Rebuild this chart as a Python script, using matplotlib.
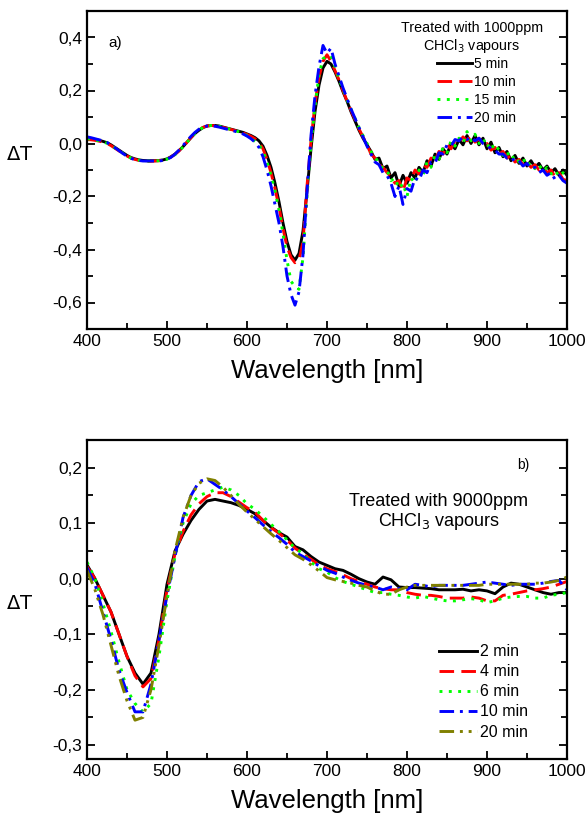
import numpy as np
import matplotlib
matplotlib.use('Agg')
import matplotlib.pyplot as plt
from matplotlib.ticker import MultipleLocator, FuncFormatter

plt.rcParams['font.family'] = ['Liberation Sans', 'DejaVu Sans']

# ---- panel a) : 1000 ppm CHCl3, wavelength grid 400..1000 step 5 nm
wl_a = list(range(400, 1001, 5))

dT_5min = [
    0.020, 0.018, 0.015, 0.012, 0.008, 0.003, -0.005, -0.015, -0.025, -0.035,
    -0.045, -0.053, -0.058, -0.062, -0.064, -0.065, -0.065, -0.065, -0.064, -0.062,
    -0.058, -0.050, -0.040, -0.027, -0.012, 0.005, 0.022, 0.038, 0.050, 0.060,
    0.066, 0.068, 0.068, 0.066, 0.062, 0.058, 0.054, 0.050, 0.046, 0.042,
    0.036, 0.030, 0.022, 0.010, -0.010, -0.045, -0.090, -0.150, -0.220, -0.300,
    -0.370, -0.420, -0.440, -0.415, -0.330, -0.180, -0.020, 0.120, 0.220, 0.285,
    0.310, 0.300, 0.270, 0.235, 0.195, 0.160, 0.120, 0.085, 0.050, 0.020,
    -0.005, -0.030, -0.060, -0.055, -0.095, -0.085, -0.130, -0.110, -0.160, -0.120,
    -0.150, -0.110, -0.130, -0.090, -0.110, -0.065, -0.085, -0.040, -0.060, -0.020,
    -0.040, 0.000, -0.020, 0.015, -0.005, 0.030, 0.000, 0.030, -0.005, 0.020,
    -0.020, 0.005, -0.035, -0.015, -0.050, -0.030, -0.065, -0.045, -0.075, -0.055,
    -0.085, -0.065, -0.090, -0.075, -0.100, -0.085, -0.110, -0.095, -0.120, -0.100,
    -0.120]

dT_10min = [
    0.015, 0.014, 0.012, 0.009, 0.005, 0.000, -0.008, -0.018, -0.028, -0.038,
    -0.047, -0.055, -0.060, -0.064, -0.066, -0.067, -0.067, -0.066, -0.065, -0.063,
    -0.059, -0.051, -0.041, -0.028, -0.012, 0.005, 0.023, 0.039, 0.052, 0.061,
    0.066, 0.068, 0.067, 0.065, 0.061, 0.057, 0.053, 0.049, 0.045, 0.040,
    0.034, 0.027, 0.018, 0.005, -0.020, -0.060, -0.110, -0.170, -0.240, -0.320,
    -0.390, -0.430, -0.450, -0.440, -0.370, -0.160, 0.010, 0.150, 0.250, 0.310,
    0.335, 0.310, 0.275, 0.240, 0.200, 0.160, 0.125, 0.090, 0.055, 0.025,
    -0.005, -0.040, -0.055, -0.080, -0.090, -0.110, -0.125, -0.150, -0.140, -0.180,
    -0.130, -0.140, -0.100, -0.115, -0.080, -0.090, -0.055, -0.065, -0.030, -0.040,
    -0.005, -0.020, 0.010, 0.000, 0.025, 0.010, 0.030, 0.005, 0.020, -0.010,
    0.000, -0.025, -0.015, -0.040, -0.030, -0.055, -0.045, -0.070, -0.060, -0.080,
    -0.070, -0.090, -0.080, -0.100, -0.090, -0.110, -0.100, -0.125, -0.110, -0.135,
    -0.140]

dT_15min = [
    0.018, 0.016, 0.013, 0.010, 0.006, 0.001, -0.007, -0.017, -0.027, -0.037,
    -0.047, -0.055, -0.060, -0.063, -0.065, -0.066, -0.066, -0.066, -0.065, -0.063,
    -0.059, -0.052, -0.042, -0.029, -0.013, 0.004, 0.022, 0.038, 0.051, 0.060,
    0.066, 0.068, 0.067, 0.065, 0.061, 0.057, 0.053, 0.049, 0.044, 0.038,
    0.030, 0.020, 0.008, -0.005, -0.030, -0.070, -0.120, -0.180, -0.250, -0.340,
    -0.440, -0.520, -0.540, -0.550, -0.430, -0.200, 0.000, 0.140, 0.260, 0.320,
    0.330, 0.330, 0.290, 0.245, 0.205, 0.165, 0.130, 0.095, 0.060, 0.030,
    0.000, -0.030, -0.050, -0.075, -0.095, -0.100, -0.140, -0.130, -0.170, -0.150,
    -0.200, -0.130, -0.150, -0.100, -0.120, -0.070, -0.090, -0.045, -0.060, -0.015,
    -0.035, 0.010, -0.010, 0.020, 0.000, 0.045, 0.010, 0.035, 0.000, 0.020,
    -0.015, 0.005, -0.030, -0.015, -0.045, -0.030, -0.060, -0.045, -0.070, -0.055,
    -0.085, -0.070, -0.095, -0.080, -0.105, -0.090, -0.115, -0.100, -0.125, -0.110,
    -0.120]

dT_20min = [
    0.025, 0.022, 0.018, 0.014, 0.010, 0.004, -0.005, -0.016, -0.027, -0.038,
    -0.048, -0.056, -0.061, -0.064, -0.066, -0.066, -0.066, -0.066, -0.066, -0.064,
    -0.060, -0.052, -0.040, -0.025, -0.008, 0.010, 0.027, 0.042, 0.054, 0.062,
    0.066, 0.067, 0.065, 0.062, 0.058, 0.054, 0.050, 0.046, 0.042, 0.036,
    0.028, 0.018, 0.005, -0.015, -0.050, -0.100, -0.160, -0.230, -0.300, -0.390,
    -0.500, -0.570, -0.610, -0.560, -0.420, -0.180, 0.030, 0.180, 0.290, 0.370,
    0.340, 0.360, 0.300, 0.255, 0.210, 0.170, 0.130, 0.095, 0.060, 0.025,
    -0.010, -0.040, -0.070, -0.080, -0.110, -0.120, -0.150, -0.200, -0.160, -0.230,
    -0.170, -0.180, -0.130, -0.140, -0.100, -0.110, -0.070, -0.075, -0.035, -0.040,
    -0.005, -0.010, 0.015, 0.010, 0.025, 0.015, 0.025, 0.010, 0.020, 0.000,
    -0.005, -0.020, -0.025, -0.040, -0.040, -0.055, -0.050, -0.070, -0.065, -0.085,
    -0.075, -0.095, -0.090, -0.110, -0.100, -0.120, -0.110, -0.135, -0.120, -0.140,
    -0.150]

# ---- panel b) : 9000 ppm CHCl3, grid 400..1000 step 10 nm
wl_b = list(range(400, 1001, 10))

dT_2min = [
    0.025, 0.000, -0.030, -0.060, -0.100, -0.140, -0.170, -0.190, -0.170, -0.100,
    -0.010, 0.050, 0.080, 0.105, 0.125, 0.140, 0.143, 0.140, 0.137, 0.132,
    0.125, 0.117, 0.105, 0.093, 0.083, 0.075, 0.058, 0.052, 0.040, 0.030,
    0.024, 0.018, 0.015, 0.008, 0.000, -0.006, -0.010, 0.003, -0.002, -0.015,
    -0.016, -0.016, -0.017, -0.018, -0.020, -0.020, -0.020, -0.019, -0.022, -0.020,
    -0.022, -0.027, -0.015, -0.008, -0.010, -0.015, -0.020, -0.025, -0.028, -0.025,
    -0.025]

dT_4min = [
    0.022, 0.000, -0.030, -0.060, -0.100, -0.140, -0.175, -0.195, -0.180, -0.110,
    -0.020, 0.045, 0.085, 0.115, 0.135, 0.148, 0.155, 0.155, 0.148, 0.138,
    0.128, 0.120, 0.105, 0.092, 0.082, 0.070, 0.055, 0.045, 0.035, 0.025,
    0.018, 0.013, 0.007, 0.000, -0.005, -0.010, -0.015, -0.018, -0.020, -0.020,
    -0.025, -0.028, -0.030, -0.030, -0.032, -0.035, -0.035, -0.035, -0.033, -0.035,
    -0.040, -0.040, -0.030, -0.028, -0.025, -0.022, -0.020, -0.018, -0.015, -0.010,
    -0.005]

dT_6min = [
    0.030, 0.000, -0.045, -0.095, -0.150, -0.200, -0.225, -0.240, -0.225, -0.140,
    -0.040, 0.040, 0.100, 0.135, 0.150, 0.155, 0.160, 0.165, 0.160, 0.150,
    0.135, 0.125, 0.112, 0.098, 0.085, 0.070, 0.055, 0.045, 0.030, 0.018,
    0.012, 0.002, -0.005, -0.010, -0.015, -0.020, -0.025, -0.025, -0.028, -0.030,
    -0.033, -0.035, -0.032, -0.035, -0.038, -0.040, -0.040, -0.038, -0.036, -0.038,
    -0.043, -0.040, -0.035, -0.033, -0.032, -0.032, -0.035, -0.035, -0.030, -0.028,
    -0.025]

dT_10min_b = [
    0.020, -0.010, -0.060, -0.110, -0.165, -0.205, -0.240, -0.240, -0.190, -0.110,
    -0.030, 0.040, 0.110, 0.150, 0.175, 0.180, 0.170, 0.160, 0.148, 0.135,
    0.122, 0.110, 0.097, 0.085, 0.074, 0.062, 0.048, 0.040, 0.032, 0.023,
    0.015, 0.010, 0.003, -0.003, -0.008, -0.012, -0.015, -0.020, -0.015, -0.018,
    -0.020, -0.010, -0.012, -0.015, -0.012, -0.012, -0.012, -0.012, -0.010, -0.008,
    -0.006, -0.008, -0.010, -0.012, -0.010, -0.010, -0.010, -0.008, -0.005, -0.003,
    -0.020]

dT_20min_b = [
    0.015, -0.020, -0.065, -0.120, -0.175, -0.220, -0.255, -0.250, -0.200, -0.120,
    -0.030, 0.050, 0.110, 0.150, 0.172, 0.180, 0.177, 0.165, 0.150, 0.134,
    0.120, 0.107, 0.094, 0.081, 0.069, 0.056, 0.043, 0.035, 0.025, 0.014,
    0.002, -0.002, -0.005, -0.008, -0.012, -0.015, -0.022, -0.028, -0.028, -0.020,
    -0.015, -0.012, -0.012, -0.012, -0.012, -0.012, -0.012, -0.012, -0.012, -0.012,
    -0.010, -0.010, -0.010, -0.010, -0.010, -0.010, -0.008, -0.008, -0.006, -0.003,
    0.003]

labels_a = ['5 min', '10 min', '15 min', '20 min']
labels_b = ['2 min', '4 min', '6 min', '10 min', '20 min']

styles = [
    dict(color='black', linestyle='-'),
    dict(color='#ff0000', linestyle=(0, (5, 2.5))),
    dict(color='#00ff00', linestyle=(0, (1, 2.2))),
    dict(color='#0000ff', linestyle=(0, (5, 2, 1, 2))),
    dict(color='#808000', linestyle=(0, (5, 2, 1, 2, 1, 2))),
]


def comma_fmt(v, pos):
    return '{:.1f}'.format(v).replace('.', ',')


def style_axes(ax, ymaj, ymin):
    ax.set_xlim(400, 1000)
    ax.xaxis.set_major_locator(MultipleLocator(100))
    ax.xaxis.set_minor_locator(MultipleLocator(50))
    ax.yaxis.set_major_locator(MultipleLocator(ymaj))
    ax.yaxis.set_minor_locator(MultipleLocator(ymin))
    ax.yaxis.set_major_formatter(FuncFormatter(comma_fmt))
    ax.tick_params(which='both', direction='in', right=True, top=False,
                   labelsize=12.5, width=1.3)
    ax.tick_params(which='major', length=6)
    ax.tick_params(which='minor', length=4)
    for s in ax.spines.values():
        s.set_linewidth(1.6)
    ax.set_xlabel('Wavelength [nm]', fontsize=18.5, labelpad=7)
    ax.set_ylabel(r'$\Delta$T', fontsize=14, rotation=0, va='center',
                  ha='center', family='DejaVu Sans')


fig = plt.figure(figsize=(5.87, 8.17), dpi=100)
ax1 = fig.add_axes([87 / 587, 1 - 329 / 817, 480 / 587, 318 / 817])
ax2 = fig.add_axes([87 / 587, 1 - 759 / 817, 480 / 587, 319 / 817])

# panel a
for y, lab, st in zip([dT_5min, dT_10min, dT_15min, dT_20min], labels_a, styles):
    ax1.plot(wl_a, y, lw=2.1, label=lab, **st)
style_axes(ax1, 0.2, 0.1)
ax1.set_ylim(-0.7, 0.5)
ax1.yaxis.set_label_coords(-0.14, 0.55)
ax1.text(0.044, 0.90, 'a)', transform=ax1.transAxes, fontsize=11, va='center')
ax1.text(0.802, 0.915, 'Treated with 1000ppm\nCHCl$_3$ vapours', transform=ax1.transAxes,
         fontsize=10.3, ha='center', va='center', linespacing=1.15)
ax1.legend(loc='upper left', bbox_to_anchor=(0.729, 0.856), frameon=False, fontsize=10,
           handlelength=2.5, handletextpad=0.15, labelspacing=0.3, borderpad=0,
           borderaxespad=0)

# panel b
for y, lab, st in zip([dT_2min, dT_4min, dT_6min, dT_10min_b, dT_20min_b], labels_b, styles):
    ax2.plot(wl_b, y, lw=2.1, label=lab, **st)
style_axes(ax2, 0.1, 0.05)
ax2.set_ylim(-0.325, 0.25)
ax2.yaxis.set_label_coords(-0.14, 0.486)
ax2.text(0.896, 0.922, 'b)', transform=ax2.transAxes, fontsize=10, va='center')
ax2.text(0.733, 0.773, 'Treated with 9000ppm\nCHCl$_3$ vapours', transform=ax2.transAxes,
         fontsize=13, ha='center', va='center', linespacing=1.05)
ax2.legend(loc='upper left', bbox_to_anchor=(0.733, 0.36), frameon=False, fontsize=11.5,
           handlelength=2.4, handletextpad=0.15, labelspacing=0.32, borderpad=0,
           borderaxespad=0)

fig.savefig('out.png', dpi=100)
